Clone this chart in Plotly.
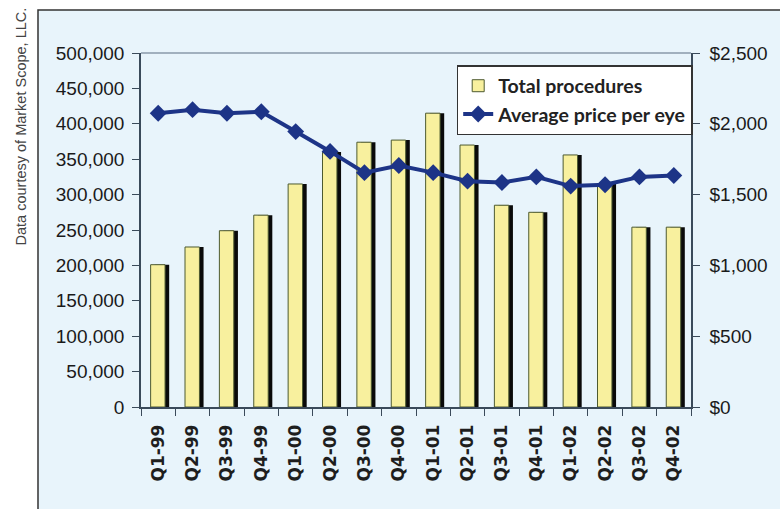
import plotly.graph_objects as go

quarters = ["Q1-99", "Q2-99", "Q3-99", "Q4-99", "Q1-00", "Q2-00", "Q3-00", "Q4-00",
            "Q1-01", "Q2-01", "Q3-01", "Q4-01", "Q1-02", "Q2-02", "Q3-02", "Q4-02"]
total_procedures = [201000, 226000, 249000, 271000, 315000, 360000, 374000, 377000,
                    415000, 370000, 285000, 275000, 356000, 315000, 254000, 254000]
avg_price = [2075, 2100, 2075, 2085, 1945, 1805, 1655, 1705,
             1655, 1595, 1585, 1625, 1560, 1570, 1625, 1635]

left_ticks = list(range(0, 500001, 50000))
left_labels = [f"{v:,}" for v in left_ticks]
right_ticks = list(range(0, 2501, 500))
right_labels = [f"${v:,}" for v in right_ticks]

fig = go.Figure()

# bar shadow
fig.add_trace(go.Bar(
    x=quarters, y=total_procedures, yaxis="y",
    marker=dict(color="#0a0a0a", line=dict(width=0)),
    width=0.42, offset=-0.10, showlegend=False, hoverinfo="skip",
))
fig.add_trace(go.Bar(
    x=quarters, y=total_procedures, yaxis="y", name="Total procedures",
    marker=dict(color="#f8f09e", line=dict(color="#4d5a30", width=1)),
    width=0.42, offset=-0.22,
))
fig.add_trace(go.Scatter(
    x=quarters, y=avg_price, yaxis="y2", name="Average price per eye",
    mode="lines+markers",
    line=dict(color="#1d3487", width=4),
    marker=dict(symbol="diamond", size=13, color="#1d3487"),
))

tickfont = dict(family="Liberation Sans, Arial, sans-serif", size=19, color="#1a1a1a")

fig.update_layout(
    width=780, height=509,
    margin=dict(l=141, r=73, t=53, b=102),
    paper_bgcolor="white",
    plot_bgcolor="#b6d3ef",
    barmode="overlay",
    showlegend=True,
    legend=dict(
        x=0.574, y=0.966, xanchor="left", yanchor="top",
        bgcolor="white", bordercolor="#333333", borderwidth=1.5,
        font=dict(family="Lato, Noto Sans, sans-serif", size=19.5, color="#222222", weight="bold"),
        traceorder="normal", tracegroupgap=0, itemwidth=30,
    ),
    xaxis=dict(
        type="category", showgrid=False, tickangle=-90,
        tickfont=dict(family="DejaVu Sans, sans-serif", size=17, color="#1e1e1e", weight="bold"),
        ticks="outside", ticklen=7, tickcolor="#3a4a5a", tickson="boundaries",
        ticklabelstandoff=9,
        showline=True, linecolor="#3a4a5a", linewidth=1.5,
        range=[-0.5, 15.5],
    ),
    yaxis=dict(
        range=[0, 500000], tickvals=left_ticks, ticktext=left_labels,
        showgrid=False, zeroline=False, tickfont=tickfont,
        ticks="outside", ticklen=7, tickcolor="#3a4a5a",
        showline=True, linecolor="#3a4a5a", linewidth=1.5,
        ticklabelstandoff=4,
    ),
    yaxis2=dict(
        range=[0, 2500], tickvals=right_ticks, ticktext=right_labels,
        overlaying="y", side="right", showgrid=False, zeroline=False, tickfont=tickfont,
        ticks="outside", ticklen=7, tickcolor="#3a4a5a",
        showline=True, linecolor="#3a4a5a", linewidth=1.5,
        ticklabelstandoff=6,
    ),
    shapes=[
        dict(type="rect", xref="paper", yref="paper",
             x0=(35 - 141) / 566, x1=(800 - 141) / 566,
             y0=(407 - 530) / 354, y1=(407 - 10) / 354,
             fillcolor="#e8f4fb", line=dict(color="#333333", width=1.5), layer="below"),
        dict(type="line", xref="paper", yref="paper", x0=0, x1=1, y0=1, y1=1,
             line=dict(color="#8a9aaa", width=1.5)),
    ],
    annotations=[
        dict(text="Data courtesy of Market Scope, LLC.", xref="paper", yref="paper",
             x=(18 - 141) / 566, y=(407 - 126) / 354, showarrow=False, textangle=-90,
             font=dict(family="Liberation Sans, Arial, sans-serif",
                       size=14.5, color="#444444"),
             xanchor="center", yanchor="middle"),
    ],
)

fig.write_html("out.html")
